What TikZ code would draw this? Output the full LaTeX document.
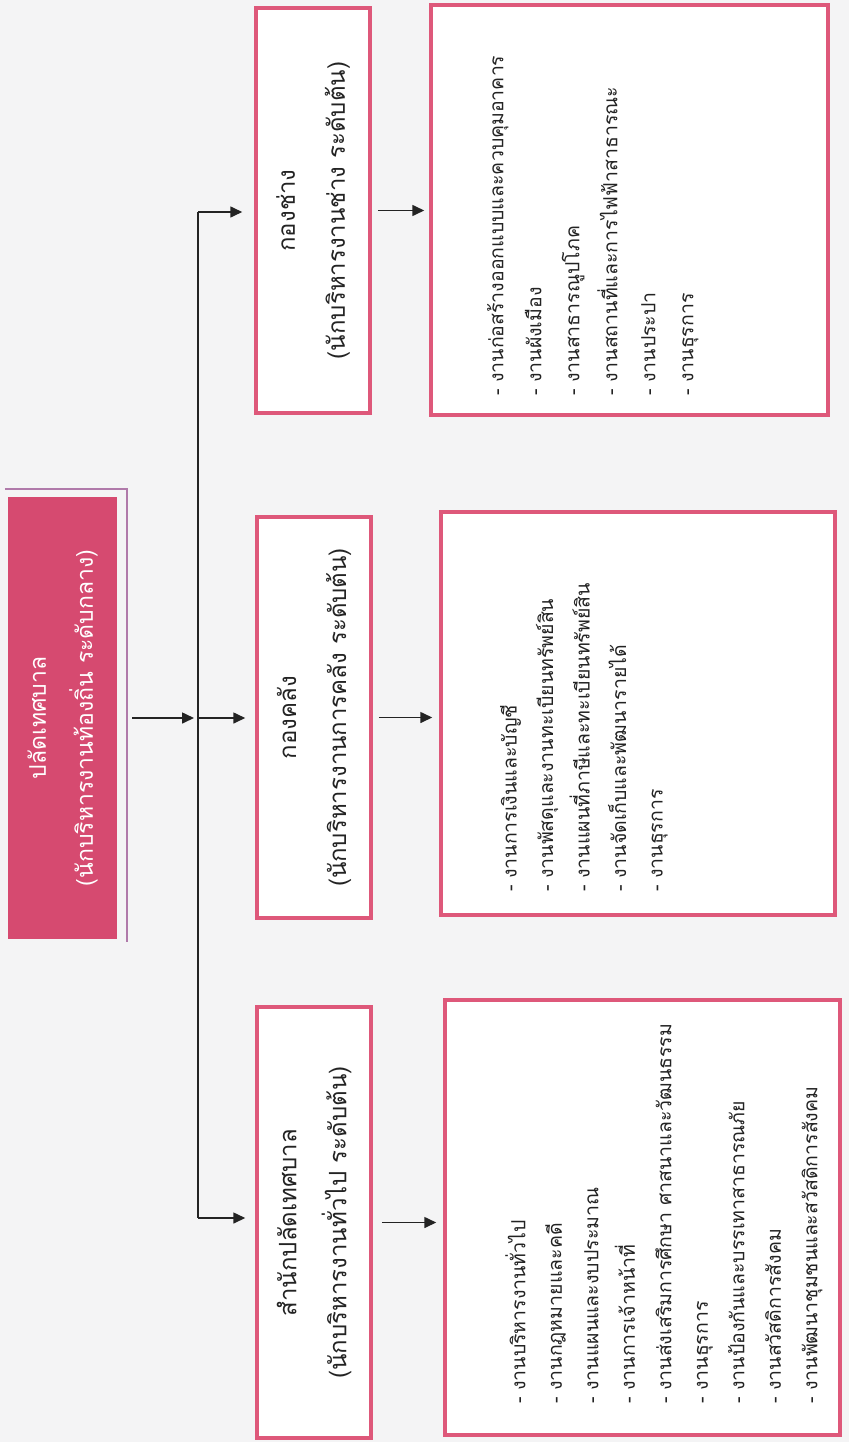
\documentclass[tikz,border=0pt]{standalone}
\usepackage{fontspec}
\newfontfamily\thaifont[Script=Thai]{Loma}
\definecolor{boxpink}{RGB}{222, 88, 122}
\definecolor{headpink}{RGB}{214, 74, 112}
\definecolor{framepurple}{RGB}{176, 122, 170}
\definecolor{inkgray}{RGB}{35, 35, 35}
\definecolor{paper}{RGB}{244, 244, 245}
\usetikzlibrary{arrows.meta, positioning, calc}

\tikzset{
  headbox/.style={fill=headpink, rotate=90, align=center, inner sep=0pt, text=white, font=\thaifont\fontsize{23}{47}\selectfont},
  unitbox/.style={draw=boxpink, line width=3.5pt, fill=white, rotate=90, align=center, inner sep=0pt, minimum height=114pt, text=inkgray, font=\thaifont\fontsize{24}{50}\selectfont},
  workbox/.style={draw=boxpink, line width=3.5pt, fill=white, rotate=90, inner sep=0pt},
  worklist/.style={rotate=90, anchor=north west, align=left, inner sep=0pt, text=inkgray, font=\thaifont\fontsize{19.5}{36.5}\selectfont},
  link/.style={-{Triangle[length=12pt, width=11pt]}, line width=1.6pt, draw=inkgray},
}

\begin{document}
\begin{tikzpicture}[x=1pt, y=-1pt]
  \fill[paper] (0,0) rectangle (849,1442);
  \useasboundingbox (0,0) rectangle (849,1442);

  % top of the chart
  \node[headbox, minimum width=442pt, minimum height=109pt] (chief) at (62.5,718) {ปลัดเทศบาล\\(นักบริหารงานท้องถิ่น ระดับกลาง)};
  \draw[framepurple, line width=2pt] ([shift={(-3pt,8pt)}]chief.north east) -- ([shift={(10pt,8pt)}]chief.south east) -- ([shift={(10pt,-3pt)}]chief.south west);

  % divisions
  \node[unitbox, minimum width=405pt] (chang) at (313,210.5) {กองช่าง\\(นักบริหารงานช่าง ระดับต้น)};
  \node[unitbox, minimum width=401pt] (khlang) at (314,717.5) {กองคลัง\\(นักบริหารงานการคลัง ระดับต้น)};
  \node[unitbox, minimum width=431pt] (office) at (314,1222.5) {สำนักปลัดเทศบาล\\(นักบริหารงานทั่วไป ระดับต้น)};

  % work of each division
  \node[workbox, minimum width=410pt, minimum height=397pt] (changwork) at (629.5,210) {};
  \node[workbox, minimum width=403pt, minimum height=394pt] (khlangwork) at (638,713.5) {};
  \node[workbox, minimum width=435pt, minimum height=395pt] (officework) at (642.5,1217.5) {};

  \node[worklist, font=\thaifont\fontsize{19.5}{38}\selectfont] (changlist) at (487,396) {- งานก่อสร้างออกแบบและควบคุมอาคาร\\- งานผังเมือง\\- งานสาธารณูปโภค\\- งานสถานที่และการไฟฟ้าสาธารณะ\\- งานประปา\\- งานธุรการ};
  \node[worklist] (khlanglist) at (500,892) {- งานการเงินและบัญชี\\- งานพัสดุและงานทะเบียนทรัพย์สิน\\- งานแผนที่ภาษีและทะเบียนทรัพย์สิน\\- งานจัดเก็บและพัฒนารายได้\\- งานธุรการ};
  \node[worklist] (officelist) at (505,1404) {- งานบริหารงานทั่วไป\\- งานกฎหมายและคดี\\- งานแผนและงบประมาณ\\- งานการเจ้าหน้าที่\\- งานส่งเสริมการศึกษา ศาสนาและวัฒนธรรม\\- งานธุรการ\\- งานป้องกันและบรรเทาสาธารณภัย\\- งานสวัสดิการสังคม\\- งานพัฒนาชุมชนและสวัสดิการสังคม};

  % connectors
  \coordinate (spinetop) at (198,212);
  \coordinate (spinemid) at (198,718);
  \coordinate (spinebot) at (198,1218);
  \draw[inkgray, line width=1.6pt] (spinetop) -- (spinebot);
  \draw[link] ([xshift=15pt]chief.south) -- ([xshift=-4pt]spinemid);
  \draw[link] (spinetop) -- ([xshift=-12pt]spinetop -| chang.north);
  \draw[link] (spinemid) -- ([xshift=-10pt]spinemid -| khlang.north);
  \draw[link] (spinebot) -- ([xshift=-10pt]spinebot -| office.north);

  \draw[link] ([xshift=6pt]chang.south) -- ([xshift=-5pt]chang.south -| changwork.north);
  \draw[link] ([xshift=6pt]khlang.south) -- ([xshift=-7pt]khlang.south -| khlangwork.north);
  \draw[link] ([xshift=9pt]office.south) -- ([xshift=-7pt]office.south -| officework.north);
\end{tikzpicture}
\end{document}
